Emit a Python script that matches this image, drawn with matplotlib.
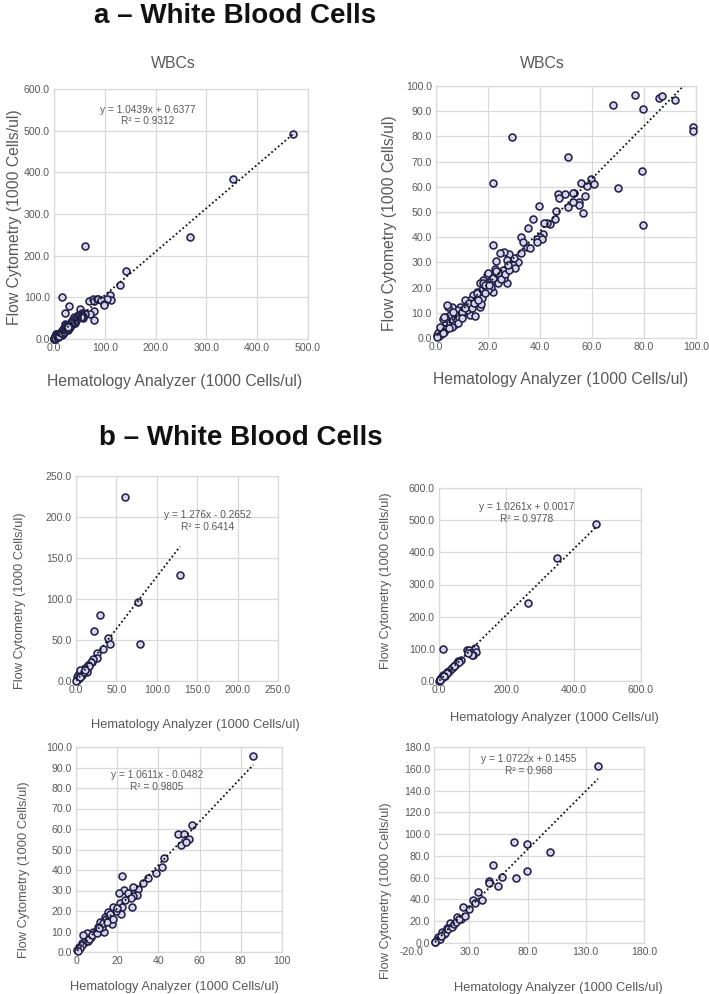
import numpy as np
import matplotlib.pyplot as plt

plt.rcParams['font.family'] = ['Liberation Sans', 'DejaVu Sans']

# ---- data: panel a (one dataset, full range and 0-100 zoom) ----
a_hema = [470, 352, 268, 142, 130, 62, 15, 110, 112, 104,
          68.2, 76.7, 79.5, 85.6, 87.1, 91.9, 99.0, 99.0, 29.4, 50.6, 79.2, 69.9, 79.6,
          22.1, 22.1, 39.6, 37.3, 35.4,
          59.6, 55.8, 58.2, 60.6, 57.4, 53.1, 54.9, 56.7, 55.0, 52.6, 49.6, 46.8, 47.4,
          50.8, 52.6, 46.2, 45.8, 43.8, 42.6, 41.5, 41.3, 40.0, 38.7, 40.6, 38.7, 34.9,
          36.2, 32.7, 33.5, 32.6, 31.7, 30.0, 28.0, 26.0, 24.6, 23.1, 27.2, 28.5, 29.7,
          30.4, 27.2, 25.6, 24.0, 26.3, 21.8,
          20.8, 19.5, 21.4, 23.3, 24.0, 21.0, 18.2, 16.9, 18.8, 20.1, 17.6, 15.6, 14.4,
          16.3, 17.6, 15.0, 13.1, 11.2, 11.8, 13.7, 16.9, 9.2, 9.9, 7.9, 6.0, 4.7, 13.1,
          15.0, 6.7, 5.4, 3.5, 2.8, 7.3, 10.5, 8.6, 4.7, 3.5, 5.4, 6.7, 2.2, 1.3, 0.3,
          0.9, 1.5,
          4.4, 3.2, 6.4, 17.3, 15.6, 18.2, 19.9, 22.5, 21.0, 19.0, 12.0, 10.0, 8.0, 9.0,
          11.0, 12.5, 14.0, 7.0, 6.0, 4.0, 3.0, 2.0, 1.0, 0.5, 2.5, 5.0, 8.5, 10.0, 14.5,
          16.0, 19.0, 20.5, 22.0, 23.0, 25.0, 26.5, 28.0, 27.5]
a_flow = [491, 383, 245, 163, 130, 224, 101.6, 105.6, 93.6, 95,
          92.3, 96.6, 91.0, 95.4, 95.9, 94.6, 83.9, 82.1, 79.9, 71.8, 66.1, 59.7, 45.0,
          61.4, 36.8, 52.2, 47.2, 43.8,
          63.1, 61.6, 60.4, 61.0, 56.2, 57.7, 54.1, 49.5, 52.6, 57.4, 57.1, 57.1, 55.4,
          51.9, 54.0, 50.5, 47.1, 45.1, 45.8, 45.8, 41.3, 40.2, 39.2, 39.2, 38.0, 36.1,
          35.8, 39.9, 38.0, 33.7, 30.0, 31.9, 33.3, 34.3, 33.6, 30.4, 31.0, 28.0, 29.0,
          27.6, 22.0, 27.0, 25.7, 23.7, 18.4,
          25.0, 25.0, 23.7, 23.0, 21.7, 20.1, 23.0, 21.7, 20.4, 19.0, 19.0, 18.4, 17.1,
          16.4, 15.7, 14.4, 15.1, 15.1, 13.1, 13.1, 12.4, 12.4, 11.1, 11.1, 12.4, 12.4, 9.1,
          8.7, 9.8, 9.1, 8.5, 7.4, 8.5, 9.8, 9.1, 6.5, 5.2, 5.8, 7.1, 3.8, 2.5, 1.2,
          1.9, 4.5,
          13.0, 8.5, 10.3, 13.4, 17.7, 21.7, 25.7, 27.5, 22.5, 21.0, 11.0, 10.5, 7.0, 8.0,
          12.0, 14.0, 12.0, 5.0, 4.5, 3.5, 2.5, 1.5, 0.8, 0.3, 2.0, 4.0, 6.0, 8.0, 14.0,
          15.0, 18.0, 21.0, 24.0, 26.5, 23.5, 25.5, 27.0, 29.0]
a_eq = (1.0439, 0.6377, 0.9312)

# ---- data: panel b ----
b1_hema = [60.6, 128.7, 76.7, 79.6, 29.7, 22.7, 40.0, 42.0, 33.8, 25.6, 25.6, 19.4,
           21.5, 18.2, 15.3, 11.1, 9.1, 5.0, 2.9, 0.8, 7.0, 12.5, 14.0, 10.0, 6.0, 3.5,
           1.5, 4.5, 8.0, 16.5, 13.0, 2.0, 0.5, 5.5, 9.5, 11.5]
b1_flow = [224.8, 129.3, 96.7, 45.1, 80.1, 61.4, 52.0, 45.1, 39.4, 33.7, 27.6, 23.6,
           26.4, 23.6, 19.5, 15.4, 13.4, 11.4, 7.3, 4.5, 9.3, 12.0, 15.0, 10.5, 6.0, 3.5,
           1.5, 13.0, 7.0, 18.0, 10.5, 2.0, 0.5, 5.0, 11.0, 14.0]
b1_eq = (1.276, -0.2652, 0.6414)

b2_hema = [466, 350, 265, 13, 84, 92, 107, 110, 100, 97, 90, 87, 64, 57, 52, 43, 38,
           30, 23, 20, 13, 10, 6, 3, 1, 48, 35, 27, 17, 8, 4, 2, 25, 15, 60, 45]
b2_flow = [489, 382, 244, 99.5, 96, 93, 101.5, 91, 80, 81, 96, 86, 65, 62, 55, 45, 39,
           31, 29, 22, 19, 12, 8, 4, 1, 50, 37, 27, 16, 9, 5, 2, 25, 14, 60, 47]
b2_eq = (1.0261, 0.0017, 0.9778)

b3_hema = [86.1, 56.1, 49.7, 52.6, 55.0, 51.0, 53.4, 42.7, 41.6, 38.8, 34.8, 32.4, 30.3,
           27.8, 23.3, 29.8, 27.8, 22.2, 21.0, 25.4, 26.5, 27.3, 21.4, 22.2, 18.9, 21.7,
           17.8, 15.7, 14.1, 17.3, 11.7, 14.6, 13.6, 10.8, 8.4, 5.2, 3.6, 6.8, 2.8, 1.6,
           0.6, 4.5, 5.8, 7.5, 9.5, 12.5, 16.0, 19.5, 3.0, 2.0, 1.0, 6.5, 8.0, 10.0, 11.0,
           13.0, 15.0, 16.5, 18.0, 20.0, 24.0]
b3_flow = [95.8, 62.0, 57.4, 57.4, 55.0, 52.2, 53.5, 45.7, 41.3, 38.7, 36.3, 33.5, 30.6,
           31.5, 30.2, 27.8, 27.3, 37.1, 28.6, 28.6, 26.2, 22.1, 24.1, 22.1, 20.5, 18.5,
           21.8, 19.7, 16.9, 13.5, 14.8, 15.9, 9.6, 12.4, 9.9, 9.1, 8.3, 6.7, 4.2, 2.6,
           1.0, 4.8, 5.5, 7.5, 10.0, 12.0, 17.5, 20.0, 3.2, 1.8, 0.6, 6.2, 8.5, 9.5, 11.5,
           14.0, 14.5, 18.5, 16.0, 21.5, 25.5]
b3_eq = (1.0611, -0.0482, 0.9805)

b4_hema = [140.5, 68.4, 79.9, 99.3, 50.7, 79.3, 70.1, 58.4, 55.0, 47.0, 47.2, 37.8, 40.7,
           33.5, 34.9, 30.1, 24.9, 22.9, 19.8, 13.5, 11.2, 6.3, 3.5, 0.6, 2.0, 4.5, 8.0,
           9.5, 12.0, 15.5, 17.0, 18.5, 21.0, 1.0, 5.5, 26.0]
b4_flow = [162.8, 92.4, 90.9, 83.9, 71.6, 66.1, 59.7, 60.9, 52.6, 56.9, 55.4, 47.1, 39.5,
           39.5, 36.4, 30.9, 32.8, 21.7, 24.2, 18.1, 13.5, 10.4, 5.8, 1.2, 2.5, 4.0, 8.5,
           9.0, 12.5, 14.5, 17.5, 19.5, 22.5, 0.5, 6.5, 25.0]
b4_eq = (1.0722, 0.1455, 0.968)

xlabel = 'Hematology Analyzer (1000 Cells/ul)'
ylabel = 'Flow Cytometry (1000 Cells/ul)'
GRID = '#d9d9d9'
TXT = '#595959'
FILL = '#d9d5e8'
EDGE = '#23204c'

fig = plt.figure(figsize=(7.09, 9.94), dpi=100)
fig.patch.set_facecolor('white')


def px_axes(l, r, t, b):
    return fig.add_axes([l / 709, 1 - b / 994, (r - l) / 709, (b - t) / 994])


def eq_text(eq):
    m, c, r2 = eq
    sign = '+' if c >= 0 else '-'
    return 'y = %gx %s %g\nR² = %g' % (m, sign, abs(c), r2)


def panel(ax, hx, fy, eq, xlim, ylim, xticks, yticks, xfmt, fs_lab, eq_pos,
          xlab_pos, ylab_pos, clip_view=False, show_eq=True):
    hx = np.asarray(hx, float)
    fy = np.asarray(fy, float)
    ax.set_xlim(*xlim)
    ax.set_ylim(*ylim)
    ax.set_xticks(xticks)
    ax.set_yticks(yticks)
    ax.set_xticklabels([xfmt % v for v in xticks])
    ax.set_yticklabels(['%.1f' % v for v in yticks])
    ax.grid(True, color=GRID, lw=0.9)
    ax.set_axisbelow(True)
    for s in ax.spines.values():
        s.set_color(GRID)
        s.set_linewidth(0.9)
    ax.tick_params(length=0, labelsize=7.6, colors=TXT, pad=3)
    if clip_view:
        keep = (hx <= xlim[1]) & (fy <= ylim[1])
        hx, fy = hx[keep], fy[keep]
    ax.scatter(hx, fy, s=25, facecolor=FILL, edgecolor=EDGE, linewidth=1.15,
               zorder=3, clip_on=False)
    m, c, _ = eq
    xs = np.array([hx.min(), hx.max()])
    ax.plot(xs, m * xs + c, color='#111111', lw=1.3, ls=(0, (1, 1.4)), zorder=4)
    if show_eq:
        ax.text(eq_pos[0], eq_pos[1], eq_text(eq), transform=ax.transAxes,
                ha='center', va='center', fontsize=7.3, color=TXT, linespacing=1.15,
                multialignment='center', zorder=5)
    ax.set_xlabel(xlabel, fontsize=fs_lab, color=TXT)
    ax.set_ylabel(ylabel, fontsize=fs_lab, color=TXT)
    ax.xaxis.set_label_coords(*xlab_pos)
    ax.yaxis.set_label_coords(*ylab_pos)


# section titles
fig.text(235 / 709, 1 - 16 / 994, 'a – White Blood Cells', ha='center', va='center',
         fontsize=20, fontweight='bold', color='#111111')
fig.text(241 / 709, 1 - 438 / 994, 'b – White Blood Cells', ha='center', va='center',
         fontsize=20, fontweight='bold', color='#111111')

# a, full range
ax1 = px_axes(54, 308, 89, 339)
panel(ax1, a_hema, a_flow, a_eq, (0, 500), (0, 600), np.arange(0, 501, 100),
      np.arange(0, 601, 100), '%.1f', 11.3, (0.37, 0.894), (0.476, -0.14),
      (-0.126, 0.488))
ax1.text(0.469, 1.104, 'WBCs', transform=ax1.transAxes, ha='center', va='center',
         fontsize=11.4, color=TXT)

# a, zoom 0-100
ax2 = px_axes(436, 696, 86, 338)
panel(ax2, a_hema, a_flow, a_eq, (0, 100), (0, 100), np.arange(0, 101, 20),
      np.arange(0, 101, 10), '%.1f', 11.3, None, (0.48, -0.135),
      (-0.15, 0.456), clip_view=True, show_eq=False)
ax2.text(0.41, 1.091, 'WBCs', transform=ax2.transAxes, ha='center', va='center',
         fontsize=11.4, color=TXT)

# b panels
ax3 = px_axes(76, 278, 476, 681)
panel(ax3, b1_hema, b1_flow, b1_eq, (0, 250), (0, 250), np.arange(0, 251, 50),
      np.arange(0, 251, 50), '%.1f', 9.3, (0.649, 0.78), (0.589, -0.185),
      (-0.248, 0.39))

ax4 = px_axes(439, 641, 488, 681)
panel(ax4, b2_hema, b2_flow, b2_eq, (0, 600), (0, 600), np.arange(0, 601, 200),
      np.arange(0, 601, 100), '%.1f', 9.3, (0.436, 0.87), (0.569, -0.16),
      (-0.233, 0.518))

ax5 = px_axes(76, 282, 747, 952)
panel(ax5, b3_hema, b3_flow, b3_eq, (0, 100), (0, 100), np.arange(0, 101, 20),
      np.arange(0, 101, 10), '%d', 9.3, (0.393, 0.834), (0.476, -0.141),
      (-0.223, 0.4))

# last panel: x axis from -20 but plot area starts at 0
ax6 = px_axes(411, 644, 747, 943)
b4_xt = np.arange(-20, 181, 50)
b4_yt = np.arange(0, 181, 20)
panel(ax6, b4_hema, b4_flow, b4_eq, (-20, 180), (0, 180), b4_xt, b4_yt, '%.1f', 9.3,
      (0.506, 0.908), (0.631, -0.2), (-0.08, 0.265))
ax6.grid(False)
ax6.vlines([v for v in b4_xt if 0 < v < 180], 0, 180, color=GRID, lw=0.9, zorder=0)
ax6.hlines(b4_yt, 0, 180, color=GRID, lw=0.9, zorder=0)
ax6.spines['left'].set_position(('data', 0))
ax6.spines['top'].set_bounds(0, 180)
ax6.spines['bottom'].set_bounds(0, 180)

fig.savefig('out.png', dpi=100, facecolor='white')
